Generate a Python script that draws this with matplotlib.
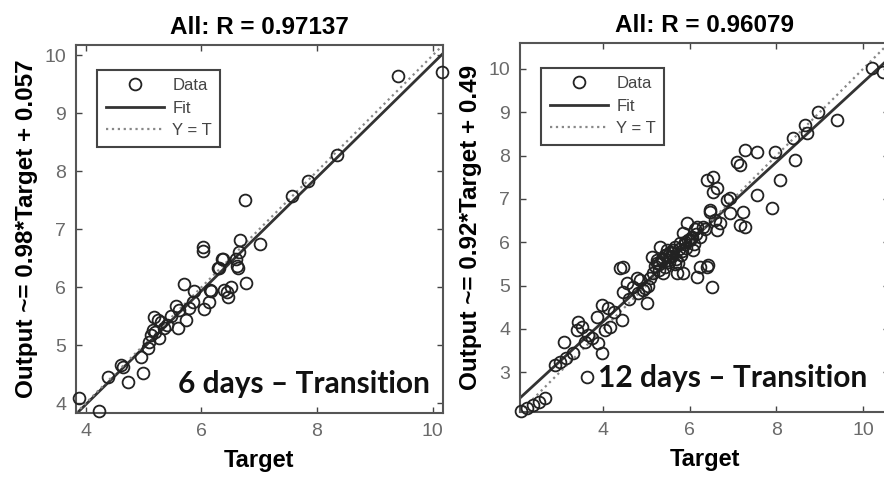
# regressao: saida da rede vs alvo (6 e 12 dias)
import matplotlib.pyplot as plt
import numpy as np

# ---- dados ----
t6 = [3.88, 4.22, 4.38, 4.61, 4.64, 4.73, 4.95, 4.99, 5.07, 5.10,
      5.13, 5.16, 5.18, 5.20, 5.25, 5.26, 5.30, 5.35, 5.40, 5.48,
      5.56, 5.59, 5.62, 5.70, 5.73, 5.78, 5.85, 5.87, 6.03, 6.03,
      6.04, 6.13, 6.15, 6.16, 6.29, 6.30, 6.35, 6.37, 6.39, 6.44,
      6.46, 6.51, 6.60, 6.61, 6.63, 6.65, 6.67, 6.75, 6.77, 7.01,
      7.57, 7.85, 8.35, 9.40, 10.16]
o6 = [4.09, 3.86, 4.45, 4.66, 4.62, 4.37, 4.80, 4.52, 4.96, 5.05,
      5.18, 5.27, 5.48, 5.22, 5.44, 5.13, 5.40, 5.30, 5.35, 5.50,
      5.67, 5.30, 5.60, 6.05, 5.44, 5.65, 5.75, 5.93, 6.70, 6.62,
      5.62, 5.74, 5.96, 5.93, 6.34, 6.34, 6.48, 6.48, 5.96, 5.92,
      5.84, 6.00, 6.48, 6.36, 6.34, 6.60, 6.81, 7.50, 6.08, 6.74,
      7.57, 7.84, 8.28, 9.64, 9.72]

t12 = [2.10, 2.25, 2.38, 2.52, 2.66,
       2.89, 3.00, 3.15, 3.10, 3.30,
       3.40, 3.42, 3.51, 3.58, 3.63, 3.65, 3.75, 3.86, 3.88, 3.98,
       3.98, 4.05, 4.12, 4.16, 4.25, 4.39, 4.44, 4.46, 4.46, 4.55,
       4.60, 4.69, 4.78, 4.81, 4.85, 4.92, 4.97, 5.02, 5.04, 5.09,
       5.13, 5.15, 5.20, 5.25, 5.25, 5.28, 5.32, 5.35, 5.39, 5.43,
       5.45, 5.48, 5.52, 5.55, 5.58, 5.62, 5.65, 5.71, 5.73, 5.78,
       5.82, 5.85, 5.85, 5.90, 5.94, 5.96, 6.00, 6.05, 6.08, 6.12,
       6.17, 6.17, 6.24, 6.24, 6.31, 6.35, 6.40, 6.40, 6.42, 6.47,
       6.47, 6.52, 6.54, 6.54, 6.59, 6.63, 6.63, 6.70, 6.86, 6.93,
       6.93, 7.09, 7.16, 7.16, 7.23, 7.28, 7.28, 7.55, 7.55, 7.90,
       7.97, 8.09, 8.39, 8.43, 8.67, 8.71, 8.97, 9.40, 10.21, 10.47,
       5.30, 5.36, 5.42, 5.50, 5.55, 5.60, 5.66, 5.68, 5.76, 5.80,
       5.88, 5.92, 6.02, 6.10, 6.14]
o12 = [2.10, 2.17, 2.24, 2.31, 2.40,
       3.17, 3.24, 3.33, 3.70, 3.45,
       3.97, 4.16, 4.04, 3.70, 2.89, 3.86, 3.80, 4.27, 3.67, 3.44,
       4.55, 3.97, 4.48, 4.04, 4.40, 5.40, 4.20, 4.85, 5.43, 5.06,
       4.70, 4.97, 5.17, 4.83, 5.13, 4.90, 4.94, 4.60, 5.00, 5.17,
       5.66, 5.28, 5.45, 5.52, 5.59, 5.35, 5.89, 5.60, 5.28, 5.43,
       5.70, 5.82, 5.55, 5.66, 5.75, 5.82, 5.50, 5.28, 5.52, 5.98,
       5.80, 6.21, 5.28, 5.95, 6.44, 6.05, 6.05, 6.12, 5.82, 6.30,
       6.35, 5.20, 6.12, 5.43, 6.35, 6.30, 5.43, 7.44, 5.47, 6.74,
       6.70, 4.97, 7.51, 7.16, 6.51, 6.28, 7.25, 6.44, 6.98, 6.67,
       7.02, 7.85, 7.78, 6.40, 6.70, 8.13, 6.35, 8.08, 7.09, 6.79,
       8.08, 7.44, 8.41, 7.90, 8.71, 8.52, 9.01, 8.82, 10.02, 9.93,
       5.50, 5.62, 5.70, 5.58, 5.78, 5.68, 5.90, 5.62, 5.85, 5.70,
       6.00, 5.86, 6.10, 5.95, 6.20]

titulos = ['All: R = 0.97137', 'All: R = 0.96079']
ylabels = ['Output ~= 0.98*Target + 0.057', 'Output ~= 0.92*Target + 0.49']
coefs = [(0.98, 0.057), (0.92, 0.49)]
rotulos = ['6 days \u2013 Transition', '12 days \u2013 Transition']
limites = [(3.83, 10.18), (2.08, 10.6)]
yticks = [[4, 5, 6, 7, 8, 9, 10], [3, 4, 5, 6, 7, 8, 9, 10]]

plt.rcParams['font.family'] = ['Liberation Sans', 'DejaVu Sans']

fig = plt.figure(figsize=(8.84, 4.78), dpi=100)
posicoes = [[76/884, 65/478, 367/884, 368/478],
            [520/884, 66/478, 369/884, 369/478]]
textpos = [(0.965, 0.054), (0.941, 0.068)]

for k, (t, o) in enumerate([(t6, o6), (t12, o12)]):
    ax = fig.add_axes(posicoes[k])
    lo, hi = limites[k]
    a, b = coefs[k]
    xx = np.array([lo, hi])
    ax.plot(t, o, 'o', mfc='none', mec='#222222', ms=8.5, mew=1.3, label='Data',
            zorder=3, clip_on=False)
    ax.plot(xx, a*xx + b, '-', color='#333333', lw=2, label='Fit', zorder=2)
    ax.plot(xx, xx, ':', color='#888888', lw=1.6, label='Y = T', zorder=2)
    ax.set_xlim(lo, hi)
    ax.set_ylim(lo, hi)
    ax.set_xticks([4, 6, 8, 10])
    ax.set_yticks(yticks[k])
    ax.tick_params(direction='in', top=True, right=True, length=4, width=1,
                   colors='#444444', labelcolor='#6a6a6a', labelsize=14, pad=7)
    for s in ax.spines.values():
        s.set_color('#555555')
        s.set_linewidth(1.5)
    ax.set_title(titulos[k], fontsize=17.5, fontweight='bold', pad=8)
    ax.set_xlabel('Target', fontsize=17, fontweight='bold', labelpad=7)
    ax.set_ylabel(ylabels[k], fontsize=17.5, fontweight='bold', labelpad=5)
    leg = ax.legend(loc='upper left', bbox_to_anchor=(0.035, 0.955), fontsize=12,
                    fancybox=False, framealpha=1, edgecolor='#444444',
                    handlelength=3.5, handletextpad=0.5, borderpad=0.5,
                    labelspacing=0.45)
    leg.get_frame().set_linewidth(1.5)
    for tx in leg.get_texts():
        tx.set_color('#444444')
    ax.text(textpos[k][0], textpos[k][1], rotulos[k], transform=ax.transAxes,
            ha='right', va='baseline', fontsize=21.5, fontweight='bold',
            family=['Lato', 'DejaVu Sans'], color='#111111', zorder=5)

plt.savefig('out.png', dpi=100)
